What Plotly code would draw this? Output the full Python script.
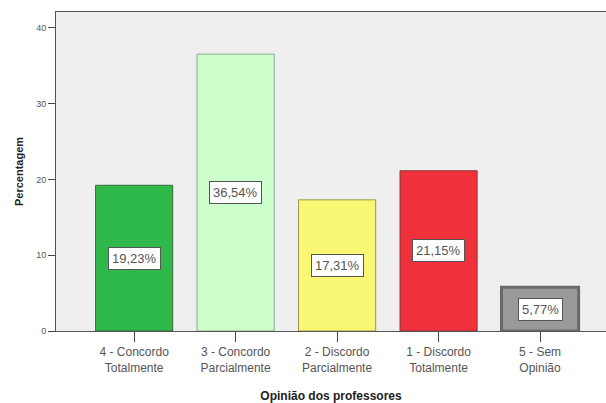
import plotly.graph_objects as go

# Categories and percentages
categorias = ["4 - Concordo<br>Totalmente", "3 - Concordo<br>Parcialmente",
              "2 - Discordo<br>Parcialmente", "1 - Discordo<br>Totalmente",
              "5 - Sem<br>Opinião"]
percentagens = [19.23, 36.54, 17.31, 21.15, 5.77]
rotulos = ["19,23%", "36,54%", "17,31%", "21,15%", "5,77%"]
cores = ["#2fb94a", "#ccffcc", "#faf774", "#f0313b", "#9a9a9a"]
bordas = ["#3a6b3f", "#8aa88a", "#9a9850", "#8a3a3e", "#6a6a6a"]
larguras_borda = [1, 1, 1, 1, 3]
y_ticks = [0, 10, 20, 30, 40]

fig = go.Figure()
fig.add_trace(go.Bar(
    x=list(range(len(categorias))),
    y=percentagens,
    width=0.76,
    marker=dict(color=cores, line=dict(color=bordas, width=larguras_borda)),
    hoverinfo="skip",
))

for i, (v, t) in enumerate(zip(percentagens, rotulos)):
    fig.add_annotation(
        x=i, y=v / 2, text=t, showarrow=False,
        font=dict(family="Liberation Sans, Arial", size=13, color="#555555"),
        bgcolor="white", bordercolor="#555555", borderwidth=1, borderpad=3,
    )

fig.update_layout(
    width=606, height=403,
    margin=dict(l=56, r=0, t=12, b=72),
    paper_bgcolor="white",
    plot_bgcolor="#efefef",
    showlegend=False,
    font=dict(family="Liberation Sans, Arial", color="#444444"),
    xaxis=dict(
        range=[-0.77, 4.65],
        tickmode="array",
        tickvals=list(range(len(categorias))),
        ticktext=categorias,
        ticks="outside", ticklen=10, tickcolor="#444444",
        tickfont=dict(size=12, color="#555555"),
        showline=True, linecolor="#555555", linewidth=1, mirror=True,
        showgrid=False, zeroline=False,
        title=dict(text="<b>Opinião dos professores</b>",
                   font=dict(size=12, color="#222222"), standoff=18),
    ),
    yaxis=dict(
        range=[0, 42.1],
        tickmode="array", tickvals=y_ticks,
        ticks="outside", ticklen=7, tickcolor="#444444",
        tickfont=dict(size=9, color="#555555"),
        showline=True, linecolor="#555555", linewidth=1,
        showgrid=False, zeroline=False,
        title=dict(text="<b>Percentagem</b>",
                   font=dict(size=11, color="#222222"), standoff=10),
    ),
)

fig.write_html("out.html")
